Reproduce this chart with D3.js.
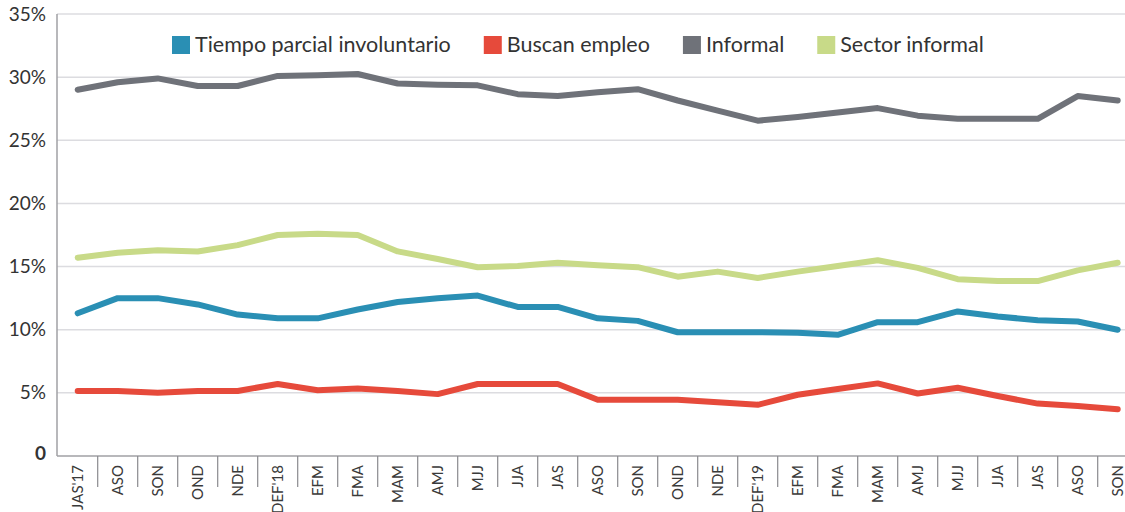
<!DOCTYPE html>
<html>
<head>
  <meta charset="utf-8">
  <script src="https://cdn.jsdelivr.net/npm/d3@7"></script>
  <style>
    body { margin: 0; background: #fff; }
    svg { font-family: Lato, "Open Sans", sans-serif; }
  </style>
</head>
<body>
  <svg id="chart" width="1125" height="512"></svg>

  <script>
    // trimestres moviles
    var periods = ["JAS'17", "ASO", "SON", "OND", "NDE", "DEF'18", "EFM", "FMA", "MAM", "AMJ", "MJJ", "JJA", "JAS",
      "ASO", "SON", "OND", "NDE", "DEF'19", "EFM", "FMA", "MAM", "AMJ", "MJJ", "JJA", "JAS", "ASO", "SON"];

    var tiempoParcial = [11.3, 12.5, 12.5, 12.0, 11.2, 10.9, 10.9, 11.6, 12.2, 12.5, 12.7, 11.8, 11.8,
      10.9, 10.7, 9.8, 9.8, 9.8, 9.75, 9.6, 10.6, 10.6, 11.45, 11.05, 10.75, 10.65, 10.0];
    var buscanEmpleo = [5.15, 5.15, 5.0, 5.15, 5.15, 5.7, 5.2, 5.35, 5.15, 4.9, 5.7, 5.7, 5.7,
      4.45, 4.45, 4.45, 4.25, 4.05, 4.85, 5.3, 5.75, 4.95, 5.4, 4.75, 4.15, 3.95, 3.7];
    var informal = [29.0, 29.6, 29.9, 29.3, 29.3, 30.1, 30.15, 30.25, 29.5, 29.4, 29.35, 28.65, 28.5,
      28.8, 29.05, 28.15, 27.35, 26.55, 26.85, 27.2, 27.55, 26.95, 26.7, 26.7, 26.7, 28.5, 28.15];
    var sectorInformal = [15.7, 16.1, 16.3, 16.2, 16.7, 17.5, 17.6, 17.5, 16.2, 15.6, 14.95, 15.05, 15.3,
      15.1, 14.95, 14.2, 14.6, 14.1, 14.6, 15.05, 15.5, 14.9, 14.0, 13.85, 13.85, 14.7, 15.3];

    var yTicks = [0, 5, 10, 15, 20, 25, 30, 35];

    var seriesNames = ["Tiempo parcial involuntario", "Buscan empleo", "Informal", "Sector informal"];
    var seriesColors = ["#2a8fb4", "#e64a3b", "#6f7279", "#c8da88"];
    var seriesValues = [tiempoParcial, buscanEmpleo, informal, sectorInformal];

    var svg = d3.select('#chart'),
      width = +svg.attr('width'),
      marginLeft = 57,
      plotTop = 14,
      plotBottom = 456;

    // one band per period, the last one runs past the right edge
    var x = d3.scaleBand()
      .domain(d3.range(periods.length))
      .range([marginLeft + 0.7, marginLeft + 0.7 + periods.length * 40]);

    var y = d3.scaleLinear()
      .domain([0, 35])
      .range([plotBottom, plotTop]);

    // grid
    svg.append('g')
      .selectAll('line')
      .data(yTicks.filter(d => d > 0))
      .enter()
      .append('line')
      .attr('x1', marginLeft)
      .attr('x2', width)
      .attr('y1', d => y(d))
      .attr('y2', d => y(d))
      .attr('stroke', '#dcdce0')
      .attr('stroke-width', 1.5);

    // y axis labels
    var yAxis = svg.append('g')
      .attr('transform', 'translate(' + marginLeft + ',0)')
      .call(d3.axisLeft(y).tickValues(yTicks).tickSize(0).tickPadding(11)
        .tickFormat(d => d === 0 ? '0' : d + '%'));
    yAxis.select('.domain').remove();
    yAxis.selectAll('text')
      .attr('font-size', 19)
      .attr('font-family', 'Lato, sans-serif')
      .attr('fill', '#333')
      .attr('font-weight', d => d === 0 ? 'bold' : null)
      .attr('dy', d => d === 0 ? '0.2em' : '0.32em');

    svg.append('line')
      .attr('x1', marginLeft).attr('x2', marginLeft)
      .attr('y1', plotTop).attr('y2', plotBottom)
      .attr('stroke', '#a0a0a4')
      .attr('stroke-width', 1.5);

    // x axis: separators between bands, rotated labels
    var xAxis = svg.append('g')
      .attr('transform', 'translate(0,' + plotBottom + ')');
    xAxis.append('line')
      .attr('x1', marginLeft).attr('x2', width)
      .attr('stroke', '#a0a0a4')
      .attr('stroke-width', 1.5);
    xAxis.selectAll('.sep')
      .data(d3.range(1, periods.length))
      .enter()
      .append('line')
      .attr('class', 'sep')
      .attr('x1', d => x(d))
      .attr('x2', d => x(d))
      .attr('y1', 0)
      .attr('y2', 31)
      .attr('stroke', '#8a8a8e')
      .attr('stroke-width', 1.2);
    xAxis.selectAll('.lab')
      .data(periods)
      .enter()
      .append('text')
      .attr('class', 'lab')
      .attr('transform', (d, i) => 'translate(' + (x(i) + x.bandwidth() / 2) + ',9) rotate(-90)')
      .attr('text-anchor', 'end')
      .attr('dy', '0.35em')
      .attr('font-size', 15)
      .attr('fill', '#3a3a3a')
      .text(d => d);

    // lines
    var line = d3.line()
      .x((d, i) => x(i) + x.bandwidth() / 2)
      .y(d => y(d));

    svg.append('g')
      .selectAll('path')
      .data(seriesValues)
      .enter()
      .append('path')
      .attr('d', line)
      .attr('fill', 'none')
      .attr('stroke', (d, i) => seriesColors[i])
      .attr('stroke-width', 6)
      .attr('stroke-linecap', 'round')
      .attr('stroke-linejoin', 'round');

    // legend
    var legend = svg.append('g');
    var lx = 172;
    seriesNames.forEach((name, i) => {
      legend.append('rect')
        .attr('x', lx).attr('y', 36)
        .attr('width', 18).attr('height', 18)
        .attr('fill', seriesColors[i]);
      var t = legend.append('text')
        .attr('x', lx + 23).attr('y', 52)
        .attr('font-size', 21.5)
        .attr('fill', '#333')
        .text(name);
      lx += 23 + t.node().getComputedTextLength() + 33;
    });
  </script>
</body>
</html>
